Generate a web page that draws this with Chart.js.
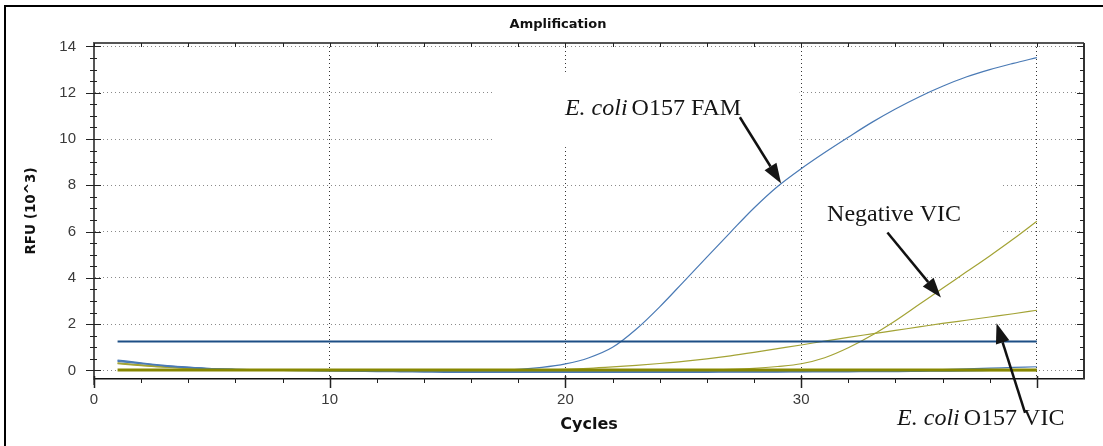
<!DOCTYPE html>
<html>
<head>
<meta charset="utf-8">
<title>Amplification</title>
<script src="https://cdn.jsdelivr.net/npm/chart.js@4.4.1/dist/chart.umd.min.js"></script>
<style>
  html, body { margin: 0; padding: 0; background: #fff; }
  #wrap { width: 1103px; height: 446px; }
</style>
</head>
<body>
<div id="wrap"><canvas id="chart" width="1103" height="446"></canvas></div>
<script>
// cycles 1..40, RFU in thousands
const cycles = [1, 2, 3, 4, 5, 6, 7, 8, 9, 10, 11, 12, 13, 14, 15, 16, 17, 18, 19, 20,
  21, 22, 23, 24, 25, 26, 27, 28, 29, 30, 31, 32, 33, 34, 35, 36, 37, 38, 39, 40];

const famEcoli = [0.45, 0.33, 0.22, 0.14, 0.08, 0.05, 0.03, 0.02, 0.01, 0.00, 0.00, -0.01, -0.01, 0.00, 0.00, 0.01, 0.02, 0.05, 0.13, 0.28,
  0.55, 1.00, 1.78, 2.75, 3.82, 4.90, 5.97, 7.02, 7.95, 8.72, 9.42, 10.08, 10.72, 11.30, 11.82, 12.28, 12.68, 13.00, 13.27, 13.52];
const famNeg = [0.42, 0.31, 0.21, 0.13, 0.08, 0.05, 0.03, 0.01, 0.00, -0.01, -0.02, -0.03, -0.03, -0.04, -0.04, -0.04, -0.04, -0.04, -0.04, -0.04,
  -0.05, -0.05, -0.05, -0.05, -0.05, -0.05, -0.05, -0.05, -0.05, -0.05, -0.04, -0.04, -0.03, -0.02, 0.00, 0.04, 0.07, 0.10, 0.13, 0.16];
const famNtc = [0.39, 0.29, 0.19, 0.12, 0.07, 0.04, 0.02, 0.00, -0.01, -0.02, -0.03, -0.05, -0.06, -0.07, -0.08, -0.08, -0.08, -0.08, -0.08, -0.08,
  -0.08, -0.08, -0.08, -0.08, -0.08, -0.08, -0.07, -0.07, -0.07, -0.06, -0.06, -0.06, -0.05, -0.05, -0.04, -0.03, -0.02, 0.00, 0.02, 0.04];
const vicEcoli = [0.33, 0.24, 0.16, 0.10, 0.06, 0.04, 0.03, 0.02, 0.02, 0.02, 0.01, 0.01, 0.01, 0.01, 0.01, 0.02, 0.02, 0.03, 0.03, 0.05,
  0.09, 0.15, 0.22, 0.30, 0.39, 0.50, 0.63, 0.78, 0.94, 1.10, 1.27, 1.43, 1.58, 1.73, 1.88, 2.03, 2.17, 2.31, 2.45, 2.60];
const vicNeg = [0.29, 0.21, 0.14, 0.09, 0.05, 0.03, 0.02, 0.01, 0.01, 0.00, 0.00, -0.01, -0.01, -0.01, 0.00, 0.00, 0.00, 0.01, 0.01, 0.01,
  0.01, 0.02, 0.02, 0.02, 0.03, 0.03, 0.05, 0.09, 0.17, 0.29, 0.55, 0.98, 1.52, 2.15, 2.85, 3.55, 4.25, 4.95, 5.68, 6.45];
const vicNtc = [0.31, 0.22, 0.15, 0.09, 0.05, 0.03, 0.01, 0.00, -0.01, -0.02, -0.02, -0.02, -0.02, -0.02, -0.02, -0.02, -0.02, -0.02, -0.02, -0.02,
  -0.02, -0.02, -0.02, -0.02, -0.02, -0.02, -0.02, -0.02, -0.02, -0.02, -0.01, -0.01, -0.01, -0.01, -0.01, -0.01, -0.01, -0.01, -0.01, -0.01];

const famThreshold = 1.25;
const vicThreshold = 0.02;

// callouts, in data units (cycle, RFU)
const callouts = [
  { italic: "E. coli", text: "O157 FAM", at: [19.98, 11.03], from: [27.4, 10.94], to: [29.15, 8.08] },
  { italic: "", text: "Negative VIC", at: [31.1, 6.44], from: [33.66, 5.96], to: [35.93, 3.15] },
  { italic: "E. coli", text: "O157 VIC", at: [34.07, -2.35], from: [39.5, -1.83], to: [38.29, 2.04] }
];
// white patches behind the pasted callouts
const patches = [
  { x0: 17.0, x1: 29.93, y0: 12.9, y1: 9.65 },
  { x0: 30.12, x1: 38.52, y0: 8.45, y1: 5.65 }
];

const FAM = "#4a7ab5";
const VIC = "#a3a335";

function series(values) {
  return values.map((v, i) => ({ x: cycles[i], y: v }));
}
function flat(v) {
  return [{ x: cycles[0], y: v }, { x: cycles[cycles.length - 1], y: v }];
}
function curve(values, color) {
  return { data: series(values), borderColor: color, borderWidth: 1.2, pointRadius: 0, cubicInterpolationMode: "monotone", fill: false };
}

function arrow(ctx, x0, y0, x1, y1) {
  const a = Math.atan2(y1 - y0, x1 - x0);
  const hl = 20, hw = 7;
  const bx = x1 - hl * Math.cos(a), by = y1 - hl * Math.sin(a);
  ctx.lineWidth = 2.5;
  ctx.beginPath();
  ctx.moveTo(x0, y0);
  ctx.lineTo(bx, by);
  ctx.stroke();
  ctx.beginPath();
  ctx.moveTo(x1, y1);
  ctx.lineTo(bx + hw * Math.sin(a), by - hw * Math.cos(a));
  ctx.lineTo(bx - hw * Math.sin(a), by + hw * Math.cos(a));
  ctx.closePath();
  ctx.fill();
}

function seg(ctx, x0, y0, x1, y1) {
  ctx.beginPath();
  ctx.moveTo(x0, y0);
  ctx.lineTo(x1, y1);
  ctx.stroke();
}

const decor = {
  id: "decor",
  beforeDatasetsDraw(chart) {
    const { ctx, scales: { x, y } } = chart;
    ctx.save();
    ctx.fillStyle = "#fff";
    for (const p of patches) {
      const l = x.getPixelForValue(p.x0), r = x.getPixelForValue(p.x1);
      const t = y.getPixelForValue(p.y0), b = y.getPixelForValue(p.y1);
      ctx.fillRect(l, t, r - l, b - t);
    }
    ctx.restore();
  },
  afterDraw(chart) {
    const { ctx, chartArea: area, scales: { x, y } } = chart;
    ctx.save();

    // outer frame
    ctx.strokeStyle = "#000";
    ctx.lineWidth = 2;
    ctx.beginPath();
    ctx.moveTo(5, 446);
    ctx.lineTo(5, 6);
    ctx.lineTo(1103, 6);
    ctx.stroke();

    // top and right edges of the plot box
    ctx.strokeStyle = "#555";
    ctx.lineWidth = 2;
    seg(ctx, area.left, area.top, area.right, area.top);
    ctx.strokeStyle = "#333";
    seg(ctx, area.right, area.top, area.right, area.bottom);
    ctx.lineWidth = 1.5;
    ctx.strokeStyle = "#555";
    seg(ctx, area.left, area.bottom, area.left, area.bottom + 6);

    // tick marks
    ctx.lineWidth = 1;
    ctx.strokeStyle = "#222";
    for (let v = 0; v <= 14; v += 0.5) {
      const py = Math.round(y.getPixelForValue(v)) + 0.5;
      const major = v % 2 === 0;
      seg(ctx, area.left - (major ? 8 : 4), py, area.left + (major ? 7 : 3), py);
      seg(ctx, area.right - (major ? 7 : 4), py, area.right, py);
    }
    for (let v = 0; v <= 40; v += 2) {
      const px = Math.round(x.getPixelForValue(v)) + 0.5;
      const major = v % 10 === 0;
      ctx.lineWidth = major ? 1.5 : 1;
      seg(ctx, px, area.bottom - (major ? 3 : 1), px, area.bottom + (major ? 9 : 4));
      ctx.lineWidth = 1;
      seg(ctx, px, area.top, px, area.top + 4);
    }

    // callouts
    ctx.fillStyle = "#151515";
    ctx.strokeStyle = "#111";
    ctx.textBaseline = "alphabetic";
    for (const c of callouts) {
      let tx = x.getPixelForValue(c.at[0]);
      const ty = y.getPixelForValue(c.at[1]);
      if (c.italic) {
        ctx.font = 'italic 24px "Liberation Serif"';
        ctx.fillText(c.italic, tx, ty);
        tx += ctx.measureText(c.italic).width + 4;
      }
      ctx.font = '24px "Liberation Serif"';
      ctx.fillText(c.text, tx, ty);
      arrow(ctx, x.getPixelForValue(c.from[0]), y.getPixelForValue(c.from[1]),
        x.getPixelForValue(c.to[0]), y.getPixelForValue(c.to[1]));
    }
    ctx.restore();
  }
};

new Chart(document.getElementById("chart"), {
  type: "line",
  data: {
    datasets: [
      { data: flat(famThreshold), borderColor: "#1d4f85", borderWidth: 2, pointRadius: 0 },
      { data: flat(vicThreshold), borderColor: "#878700", borderWidth: 3, pointRadius: 0 },
      curve(famEcoli, FAM),
      curve(famNeg, FAM),
      curve(famNtc, FAM),
      curve(vicEcoli, VIC),
      curve(vicNeg, VIC),
      curve(vicNtc, VIC)
    ]
  },
  options: {
    responsive: false,
    animation: false,
    devicePixelRatio: 1,
    layout: { padding: { left: 32, right: 19, top: 0, bottom: 0 } },
    plugins: {
      legend: { display: false },
      tooltip: { enabled: false },
      title: {
        display: true,
        text: "Amplification",
        color: "#111",
        font: { family: "DejaVu Sans", size: 13, weight: "bold", lineHeight: 1.2 },
        padding: { top: 17, bottom: 10.4 }
      }
    },
    scales: {
      x: {
        type: "linear",
        min: 0,
        max: 42,
        afterFit(scale) { scale.height = 67; },
        ticks: {
          stepSize: 10,
          includeBounds: false,
          padding: 11.5,
          color: "#3a3a3a",
          font: { family: "Liberation Sans", size: 15 },
          callback: (v) => (v === 40 ? "" : v)
        },
        grid: { color: "rgba(0,0,0,0.8)", lineWidth: 1, drawTicks: false },
        border: { color: "#111", width: 1.5, dash: [1, 3] },
        title: {
          display: true,
          text: "Cycles",
          color: "#111",
          font: { family: "DejaVu Sans", size: 16, weight: "bold", lineHeight: 1.2 },
          padding: { top: 0, bottom: 11.4 }
        }
      },
      y: {
        type: "linear",
        min: -0.37,
        max: 14.15,
        afterFit(scale) { scale.width = 62; },
        ticks: {
          stepSize: 2,
          includeBounds: false,
          padding: 18,
          color: "#3a3a3a",
          font: { family: "Liberation Sans", size: 15 }
        },
        grid: { color: "#8a8a8a", lineWidth: 1, drawTicks: false },
        border: { color: "#555", width: 2, dash: [1, 3] },
        title: {
          display: true,
          text: "RFU (10^3)",
          color: "#111",
          font: { family: "DejaVu Sans", size: 13.5, weight: "bold", lineHeight: 1.2 },
          padding: { top: -9.1, bottom: 0 }
        }
      }
    }
  },
  plugins: [decor]
});
</script>
</body>
</html>
